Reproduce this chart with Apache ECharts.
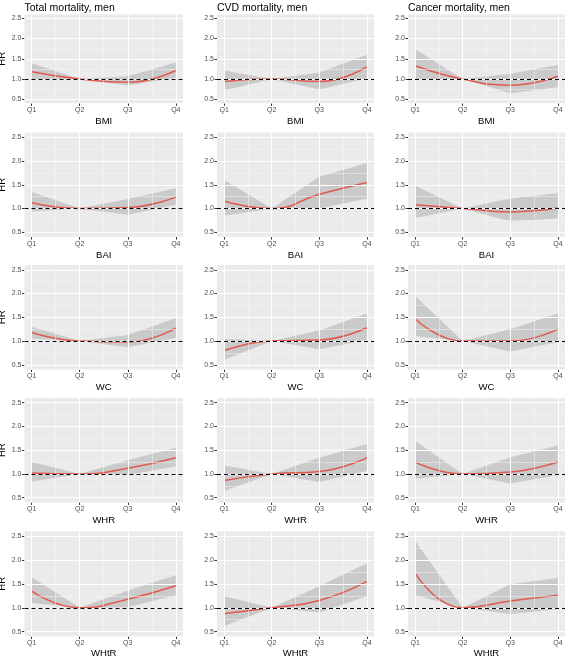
<!DOCTYPE html>
<html><head><meta charset="utf-8">
<script src="https://cdn.jsdelivr.net/npm/echarts@6/dist/echarts.min.js"></script>
<style>html,body{margin:0;padding:0;background:#fff}#c{width:566px;height:656px}</style>
</head><body><div id="c"></div>
<script>
// ---- data ----
const categories = ['Q1','Q2','Q3','Q4'];
const outcomes = ['Total mortality, men','CVD mortality, men','Cancer mortality, men'];
const measures = ['BMI','BAI','WC','WHR','WHtR'];
const yTicks = [0.5,1.0,1.5,2.0,2.5];
// HR (red line) per measure (rows BMI,BAI,WC,WHR,WHtR), values at Q1..Q4
const hrTotal  = [[1.18,1.00,0.92,1.21],[1.12,1.00,1.02,1.24],[1.18,1.00,0.98,1.27],[1.02,1.00,1.12,1.34],[1.35,1.00,1.18,1.46]];
const loTotal  = [[0.98,1.00,0.84,1.03],[0.94,1.00,0.87,1.08],[1.05,1.00,0.87,1.07],[0.84,1.00,0.98,1.16],[1.10,1.00,1.01,1.26]];
const hiTotal  = [[1.39,1.00,1.07,1.41],[1.35,1.00,1.20,1.43],[1.30,1.00,1.13,1.48],[1.25,1.00,1.29,1.55],[1.64,1.00,1.36,1.68]];
const hrCVD    = [[0.94,1.00,0.94,1.30],[1.16,1.00,1.30,1.55],[0.80,1.00,1.02,1.28],[0.86,1.00,1.05,1.34],[0.88,1.00,1.15,1.55]];
const loCVD    = [[0.72,1.00,0.74,1.02],[0.85,1.00,1.00,1.21],[0.60,1.00,0.83,1.02],[0.64,1.00,0.83,1.06],[0.62,1.00,0.90,1.24]];
const hiCVD    = [[1.21,1.00,1.16,1.60],[1.60,1.00,1.67,1.96],[1.05,1.00,1.22,1.58],[1.18,1.00,1.34,1.63],[1.24,1.00,1.45,1.93]];
const hrCancer = [[1.33,1.00,0.85,1.07],[1.08,1.00,0.93,1.01],[1.47,1.00,1.00,1.25],[1.25,1.00,1.04,1.25],[1.72,1.00,1.14,1.26]];
const loCancer = [[0.99,1.00,0.65,0.80],[0.80,1.00,0.73,0.79],[1.10,1.00,0.78,0.98],[0.90,1.00,0.80,0.98],[1.26,1.00,0.87,0.97]];
const hiCancer = [[1.74,1.00,1.13,1.35],[1.48,1.00,1.21,1.32],[1.95,1.00,1.25,1.58],[1.70,1.00,1.35,1.60],[2.40,1.00,1.49,1.62]];

const HR = [hrTotal, hrCVD, hrCancer];
const LO = [loTotal, loCVD, loCancer];
const HI = [hiTotal, hiCVD, hiCancer];

// ---- layout ----
const YMIN = 0.4, YMAX = 2.6, XMIN = 0.85, XMAX = 4.15;
const colLeft = [24.5, 217, 408], colRight = [183, 374, 565];
const y25 = [18.3, 137.3, 269.8, 402.7, 536];
const y05 = [99.3, 232.3, 364.8, 497.7, 631.7];
const xNameGap = [13, 13, 13, 13, 11];
const FONT = '"Liberation Sans", Arial, sans-serif';

const grids = [], xAxes = [], yAxes = [], series = [], titles = [];
outcomes.forEach((t, c) => {
  titles.push({text: t, left: colLeft[c], top: 3, padding: 0,
    textStyle: {fontFamily: FONT, fontSize: 10.5, fontWeight: 'normal', color: '#000'}});
});
measures.forEach((m, r) => {
  const ppu = (y05[r] - y25[r]) / 2;
  const top = y25[r] - (YMAX - 2.5) * ppu;
  const bottom = y05[r] + (0.5 - YMIN) * ppu;
  outcomes.forEach((o, c) => {
    const i = grids.length;
    grids.push({left: colLeft[c], width: colRight[c] - colLeft[c], top: top, height: bottom - top,
      show: true, backgroundColor: '#ebebeb', borderWidth: 0, containLabel: false, outerBoundsMode: 'none'});
    xAxes.push({type: 'value', gridIndex: i, min: XMIN, max: XMAX,
      name: m, nameLocation: 'middle', nameGap: xNameGap[r],
      nameTextStyle: {fontFamily: FONT, fontSize: 9.5, color: '#000', verticalAlign: 'top'},
      axisLine: {show: false}, splitLine: {show: false},
      axisTick: {show: true, length: 2.5, lineStyle: {color: '#333', width: 1}, customValues: [1,2,3,4]},
      axisLabel: {customValues: [1,2,3,4], formatter: v => categories[Math.round(v) - 1], margin: 3.5,
        fontFamily: FONT, fontSize: 7, color: '#4d4d4d'}});
    yAxes.push({type: 'value', gridIndex: i, min: YMIN, max: YMAX,
      name: c === 0 ? 'HR' : '', nameLocation: 'middle', nameRotate: 90, nameGap: 13,
      nameTextStyle: {fontFamily: FONT, fontSize: 9.5, color: '#000'},
      axisLine: {show: false}, splitLine: {show: false},
      axisTick: {show: true, length: 2.5, lineStyle: {color: '#333', width: 1}, customValues: yTicks},
      axisLabel: {customValues: yTicks, formatter: v => v.toFixed(1), margin: 3,
        fontFamily: FONT, fontSize: 7, color: '#4d4d4d'}});
    const hr = HR[c][r], lo = LO[c][r], hi = HI[c][r];
    const x = categories.map((q, k) => k + 1);
    // grid lines
    const major = [];
    yTicks.forEach(v => major.push({yAxis: v}));
    [1,2,3,4].forEach(v => major.push({xAxis: v}));
    const minor = [];
    [0.75,1.25,1.75,2.25].forEach(v => minor.push({yAxis: v}));
    [1.5,2.5,3.5].forEach(v => minor.push({xAxis: v}));
    series.push({type: 'line', xAxisIndex: i, yAxisIndex: i, data: [], z: 1, silent: true,
      markLine: {silent: true, symbol: 'none', animation: false, label: {show: false},
        lineStyle: {color: '#fff', width: 1.1, type: 'solid'}, data: major}});
    series.push({type: 'line', xAxisIndex: i, yAxisIndex: i, data: [], z: 1, silent: true,
      markLine: {silent: true, symbol: 'none', animation: false, label: {show: false},
        lineStyle: {color: '#f7f7f7', width: 0.5, type: 'solid'}, data: minor}});
    // ribbon (one polygon built from lower and upper bounds)
    const band = [];
    x.forEach((xx, k) => band.push(xx, lo[k], hi[k]));
    series.push({type: 'custom', xAxisIndex: i, yAxisIndex: i, z: 2, silent: true,
      data: [band],
      renderItem: (params, api) => {
        const n = 4, upper = [], lower = [];
        for (let k = 0; k < n; k++) {
          const xv = api.value(3 * k), l = api.value(3 * k + 1), h = api.value(3 * k + 2);
          lower.push(api.coord([xv, l]));
          upper.push(api.coord([xv, h]));
        }
        return {type: 'polygon', shape: {points: lower.concat(upper.reverse())},
          style: {fill: 'rgba(153,153,153,0.4)', stroke: null}};
      }});
    // HR line
    series.push({type: 'line', xAxisIndex: i, yAxisIndex: i, z: 3, silent: true, smooth: true,
      data: x.map((xx, k) => [xx, hr[k]]), symbol: 'none',
      lineStyle: {color: '#e0594f', width: 1.5}});
    // reference line
    series.push({type: 'line', xAxisIndex: i, yAxisIndex: i, data: [], z: 4, silent: true,
      markLine: {silent: true, symbol: 'none', animation: false, label: {show: false},
        lineStyle: {color: '#000', width: 1.1, type: [4, 3]}, data: [{yAxis: 1}]}});
  });
});

const chart = echarts.init(document.getElementById('c'), null, {renderer: 'canvas'});
chart.setOption({animation: false, title: titles, grid: grids, xAxis: xAxes, yAxis: yAxes, series: series});
</script></body></html>
